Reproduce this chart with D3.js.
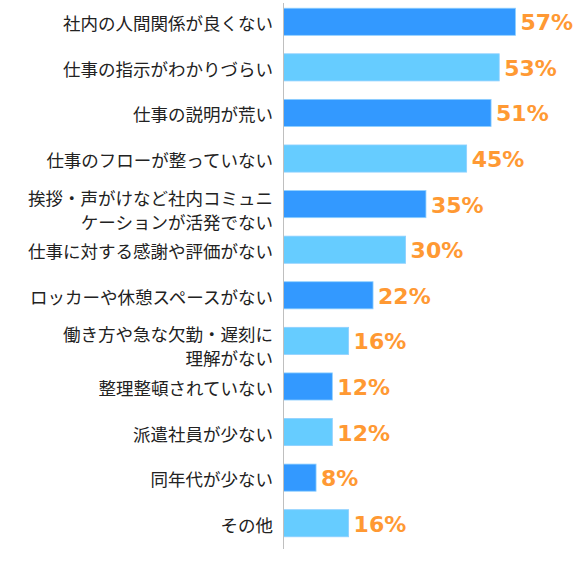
<!DOCTYPE html>
<html>
<head>
<meta charset="utf-8">
<script src="https://cdn.jsdelivr.net/npm/d3@7"></script>
<style>
body { margin: 0; background: #fff; }
</style>
</head>
<body>
<svg id="chart" width="575" height="563"></svg>
<script>
// reasons, top to bottom
var categories = [
    ["社内の人間関係が良くない"],
    ["仕事の指示がわかりづらい"],
    ["仕事の説明が荒い"],
    ["仕事のフローが整っていない"],
    ["挨拶・声がけなど社内コミュニ", "ケーションが活発でない"],
    ["仕事に対する感謝や評価がない"],
    ["ロッカーや休憩スペースがない"],
    ["働き方や急な欠勤・遅刻に", "理解がない"],
    ["整理整頓されていない"],
    ["派遣社員が少ない"],
    ["同年代が少ない"],
    ["その他"]
];
var values = [57, 53, 51, 45, 35, 30, 22, 16, 12, 12, 8, 16];
var colors = ["#3399FF", "#66CCFF"];

var svg = d3.select("#chart");
var x0 = 283.5;

var xScale = d3.scaleLinear()
    .domain([0, 100])
    .range([x0, x0 + 407]);

var yScale = d3.scaleBand()
    .domain(d3.range(values.length))
    .range([0, 545])
    .paddingInner(0.405)
    .paddingOuter(0.18);

// bars
svg.selectAll(".bar")
    .data(values)
    .join("rect")
    .attr("class", "bar")
    .attr("x", x0)
    .attr("y", function(d, i) { return yScale(i); })
    .attr("width", function(d) { return xScale(d) - x0; })
    .attr("height", yScale.bandwidth())
    .attr("fill", function(d, i) { return colors[i % 2]; })
    .attr("stroke", "#8FD0FF")
    .attr("stroke-width", 0.8);

// axis line
svg.append("line")
    .attr("x1", x0).attr("x2", x0)
    .attr("y1", 3).attr("y2", 549)
    .attr("stroke", "#BFBFBF")
    .attr("stroke-width", 1);

// value labels
svg.selectAll(".val")
    .data(values)
    .join("text")
    .attr("class", "val")
    .attr("x", function(d) { return xScale(d) + 5; })
    .attr("y", function(d, i) { return yScale(i) + yScale.bandwidth() / 2 + 1; })
    .attr("dominant-baseline", "central")
    .attr("font-family", "DejaVu Sans, Verdana, sans-serif")
    .attr("font-weight", "bold")
    .attr("font-size", "22px")
    .attr("fill", "#FF9933")
    .text(function(d) { return d + "%"; });

// category labels
var labels = svg.selectAll(".cat")
    .data(categories)
    .join("text")
    .attr("class", "cat")
    .attr("text-anchor", "end")
    .attr("font-family", "Noto Sans CJK JP, sans-serif")
    .attr("font-size", "17.5px")
    .attr("fill", "#222");

labels.each(function(lines, i) {
    var cy = yScale(i) + yScale.bandwidth() / 2;
    var offsets = lines.length == 1 ? [1] : [-7, 17];
    d3.select(this).selectAll("tspan")
        .data(lines)
        .join("tspan")
        .attr("x", 273)
        .attr("y", function(d, j) { return cy + offsets[j]; })
        .attr("dominant-baseline", "central")
        .text(function(d) { return d; });
});
</script>
</body>
</html>
